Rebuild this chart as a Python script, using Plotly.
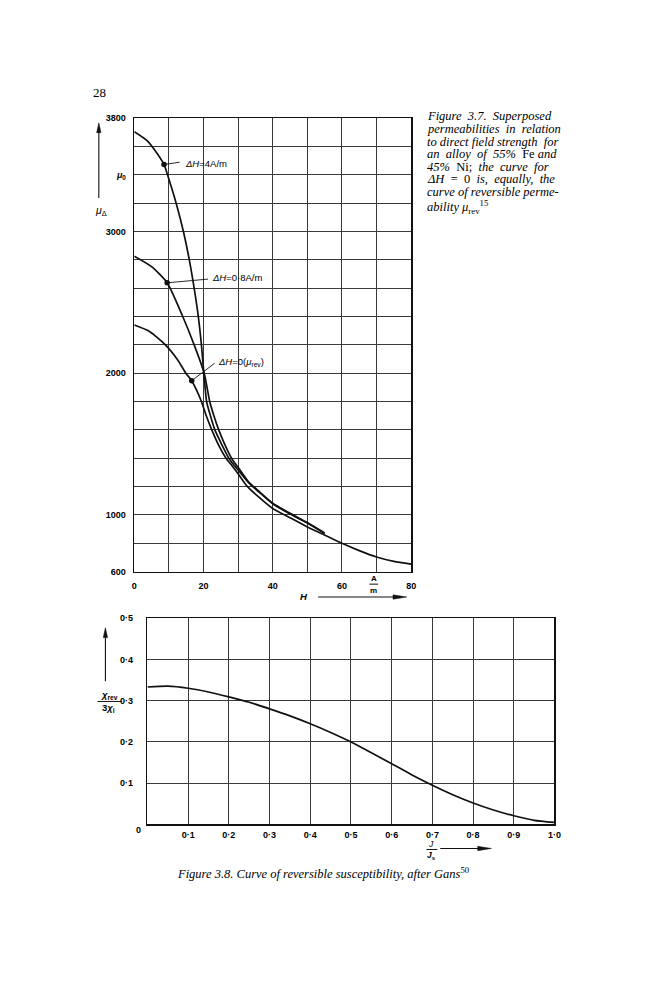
import plotly.graph_objects as go

W, Hgt = 657, 1000

# ---------------- data: Figure 3.7 ----------------
H_4 = [0, 3.7, 6, 8.6, 9.6, 12.1, 14.2, 15.9, 17.3, 18.5, 19.4, 20.1, 20.9, 22, 23.3, 25.2, 27.3, 30.2, 33, 36, 40, 45, 50, 55]
mu_4 = [3705, 3642, 3572, 3473, 3400, 3200, 3000, 2800, 2600, 2400, 2200, 2000, 1800, 1700, 1600, 1500, 1400, 1310, 1228, 1162, 1078, 1006, 942, 868]

H_08 = [0, 5, 9.5, 14, 17.3, 20.2, 21.8, 23, 24.4, 26.1, 28.1, 30.5, 33, 36, 40, 45, 50, 55]
mu_08 = [2826, 2752, 2638, 2400, 2200, 2000, 1800, 1700, 1600, 1500, 1400, 1318, 1234, 1167, 1083, 1011, 946, 872]

H_0 = [0, 4.4, 9, 12.5, 14.9, 16.6, 18, 19.4, 20.8, 22.4, 24.4, 26.5, 28.3, 30, 32.5, 36, 40, 45, 50, 55, 60, 65, 70, 75, 80]
mu_0 = [2340, 2295, 2200, 2095, 2000, 1947, 1880, 1800, 1700, 1600, 1490, 1400, 1345, 1290, 1205, 1125, 1045, 980, 915, 858, 800, 748, 703, 672, 652]

dot_H = [8.6, 9.5, 16.6]
dot_mu = [3473, 2638, 1947]

label_text = ["<i>ΔH</i>=4A/m", "<i>ΔH</i>=0·8A/m", "<i>ΔH</i>=0(<i>μ</i><sub>rev</sub>)"]
label_H = [14.0, 22.0, 23.7]          # left edge of label text
label_mu = [3483, 2673, 2077]
leader_H = [13.1, 21.3, 23.2]          # end of leader line
leader_mu = [3489, 2664, 2070]

top_xticks = [0, 20, 40, 60, 80]
top_xtext = ["0", "20", "40", "60", "80"]
top_yticks = [600, 1000, 2000, 3000, 3400, 3800]
top_ytext = ["600", "1000", "2000", "3000", "<i>μ</i><sub>0</sub>", "3800"]

# ---------------- data: Figure 3.8 ----------------
J_ratio = [0, 0.05, 0.1, 0.15, 0.2, 0.25, 0.3, 0.35, 0.4, 0.45, 0.5, 0.55, 0.6, 0.65, 0.7, 0.75, 0.8, 0.85, 0.9, 0.95, 1.0]
chi_ratio = [0.333, 0.335, 0.330, 0.321, 0.309, 0.296, 0.280, 0.263, 0.244, 0.223, 0.200, 0.174, 0.147, 0.120, 0.095, 0.072, 0.052, 0.035, 0.021, 0.010, 0.005]

bot_xticks = [0.1, 0.2, 0.3, 0.4, 0.5, 0.6, 0.7, 0.8, 0.9, 1.0]
bot_xtext = ["0·1", "0·2", "0·3", "0·4", "0·5", "0·6", "0·7", "0·8", "0·9", "1·0"]
bot_yticks = [0.1, 0.2, 0.3, 0.4, 0.5]
bot_ytext = ["0·1", "0·2", "0·3", "0·4", "0·5"]


def px(x):
    return x / W


def py(y):
    return 1 - y / Hgt


SANS = "Liberation Sans, Arial, sans-serif"
SERIF = "Liberation Serif, Times New Roman, serif"
INK = "#111"
GRID = "#3a3a3a"

fig = go.Figure()

line_style = dict(color=INK, width=1.7, shape="spline", smoothing=0.6)
fig.add_trace(go.Scatter(x=H_4, y=mu_4, mode="lines", line=line_style, xaxis="x", yaxis="y"))
fig.add_trace(go.Scatter(x=H_08, y=mu_08, mode="lines", line=line_style, xaxis="x", yaxis="y"))
fig.add_trace(go.Scatter(x=H_0, y=mu_0, mode="lines", line=line_style, xaxis="x", yaxis="y"))
fig.add_trace(go.Scatter(x=dot_H, y=dot_mu, mode="markers", marker=dict(color=INK, size=5.5),
                         xaxis="x", yaxis="y"))
fig.add_trace(go.Scatter(x=J_ratio, y=chi_ratio, mode="lines",
                         line=dict(color=INK, width=1.7, shape="spline", smoothing=0.6),
                         xaxis="x2", yaxis="y2"))


def axis(domain, rng, tickvals, ticktext, anchor, dtick, standoff):
    return dict(domain=domain, range=rng, tickmode="array", tickvals=tickvals, ticktext=ticktext,
                anchor=anchor, ticklabelstandoff=standoff,
                showgrid=True, gridcolor=GRID, gridwidth=1,
                minor=dict(tickmode="linear", tick0=0, dtick=dtick, showgrid=True,
                           gridcolor=GRID, gridwidth=1, ticks=""),
                showline=True, mirror=True, linecolor=INK, linewidth=1.6, ticks="", zeroline=False,
                tickfont=dict(family=SANS, size=9, color="#000", weight="bold"))


fig.update_layout(
    width=W, height=Hgt, margin=dict(l=0, r=0, t=0, b=0), autosize=False,
    paper_bgcolor="white", plot_bgcolor="white", showlegend=False, hovermode=False,
    xaxis=axis([px(133.3), px(414.5)], [0, 80], top_xticks, top_xtext, "y", 10, 5),
    yaxis=axis([py(572.3), py(114.3)], [600, 3800], top_yticks, top_ytext, "x", 200, 5),
    xaxis2=axis([px(146.7), px(560)], [0, 1], bot_xticks, bot_xtext, "y2", 0.1, 1),
    yaxis2=axis([py(827.7), py(619.3)], [0, 0.5], bot_yticks, bot_ytext, "x2", 0.1, 11),
)

ann = []
shapes = []

# curve labels with leader lines
for t, lh, lm, eh, em, dh, dm in zip(label_text, label_H, label_mu, leader_H, leader_mu, dot_H, dot_mu):
    ann.append(dict(x=lh, y=lm, xref="x", yref="y", text=t, showarrow=False, xanchor="left",
                    yanchor="middle", font=dict(family=SANS, size=9.5, color="#000")))
    shapes.append(dict(type="line", xref="x", yref="y", x0=dh, y0=dm, x1=eh, y1=em,
                       line=dict(color=INK, width=0.9)))


def text(x, y, t, size=9, family=SANS, xanchor="center", weight="normal"):
    ann.append(dict(x=px(x), y=py(y), xref="paper", yref="paper", text=t, showarrow=False,
                    xanchor=xanchor, yanchor="middle",
                    font=dict(family=family, size=size, color="#000", weight=weight)))


def hline(x0, x1, y, w=1.0):
    shapes.append(dict(type="line", xref="paper", yref="paper", x0=px(x0), x1=px(x1),
                       y0=py(y), y1=py(y), line=dict(color=INK, width=w)))


def arrow_up(x, y_tail, y_head):
    shapes.append(dict(type="line", xref="paper", yref="paper", x0=px(x), x1=px(x),
                       y0=py(y_tail), y1=py(y_head + 6), line=dict(color=INK, width=1.1)))
    shapes.append(dict(type="path", xref="paper", yref="paper",
                       path=f"M {px(x)},{py(y_head)} L {px(x - 2.2)},{py(y_head + 10)} "
                            f"L {px(x + 2.2)},{py(y_head + 10)} Z",
                       fillcolor=INK, line=dict(color=INK, width=0.5)))


def arrow_right(x_tail, x_head, y):
    shapes.append(dict(type="line", xref="paper", yref="paper", x0=px(x_tail), x1=px(x_head - 6),
                       y0=py(y), y1=py(y), line=dict(color=INK, width=1.1)))
    shapes.append(dict(type="path", xref="paper", yref="paper",
                       path=f"M {px(x_head)},{py(y)} L {px(x_head - 14)},{py(y - 2.2)} "
                            f"L {px(x_head - 14)},{py(y + 2.2)} Z",
                       fillcolor=INK, line=dict(color=INK, width=0.5)))


# page number
text(98, 88, "28", size=13, family=SERIF)

# caption Figure 3.7
cap_lines = [
    "<i>Figure  3.7.  Superposed</i>",
    "<i>permeabilities  in  relation</i>",
    "<i>to direct field strength  for</i>",
    "<i>an  alloy  of  55%</i>  Fe <i>and</i>",
    "<i>45%</i>  Ni;  <i>the  curve  for</i>",
    "<i>ΔH</i>  =  0  <i>is,  equally,  the</i>",
    "<i>curve of reversible perme-</i>",
    "<i>ability μ</i><sub>rev</sub><sup>15</sup>",
]
cap_y = [112.5, 125.2, 137.9, 150.6, 163.3, 176, 188.7, 204]
for t, y in zip(cap_lines, cap_y):
    text(429, y, t, size=12.5, family=SERIF, xanchor="left")

# top chart axis annotations
text(100, 208, "<i>μ</i><sub>Δ</sub>", size=10.5)
arrow_up(97.3, 195, 119)
text(376.5, 579, "A", size=8, weight="bold")
hline(372, 381, 585)
text(376.5, 591, "m", size=8, weight="bold")
text(306, 597, "<i>H</i>", size=9.5, weight="bold")
arrow_right(320, 410, 598)

# bottom chart annotations
text(138, 833, "0", size=9, weight="bold")
text(108.5, 697, "<i>χ</i><sub>rev</sub>", size=9.5, weight="bold")
hline(96, 121, 703.5)
text(107.5, 710, "3<i>χ</i><sub>i</sub>", size=9.5, weight="bold")
arrow_up(104, 683, 629)
text(435, 847, "<i>J</i>", size=8.5)
hline(430, 441, 853)
text(435.5, 859, "<i>J</i><sub>s</sub>", size=8.5, weight="bold")
arrow_right(444, 496, 852)

# caption Figure 3.8
text(325, 877, "<i>Figure 3.8. Curve of reversible susceptibility, after Gans</i><sup>50</sup>",
     size=12.5, family=SERIF)

fig.update_layout(annotations=ann, shapes=shapes)

fig.write_html("out.html", config={"displayModeBar": False, "staticPlot": True},
               post_script="document.body.style.margin='0';document.body.style.overflow='hidden';")
